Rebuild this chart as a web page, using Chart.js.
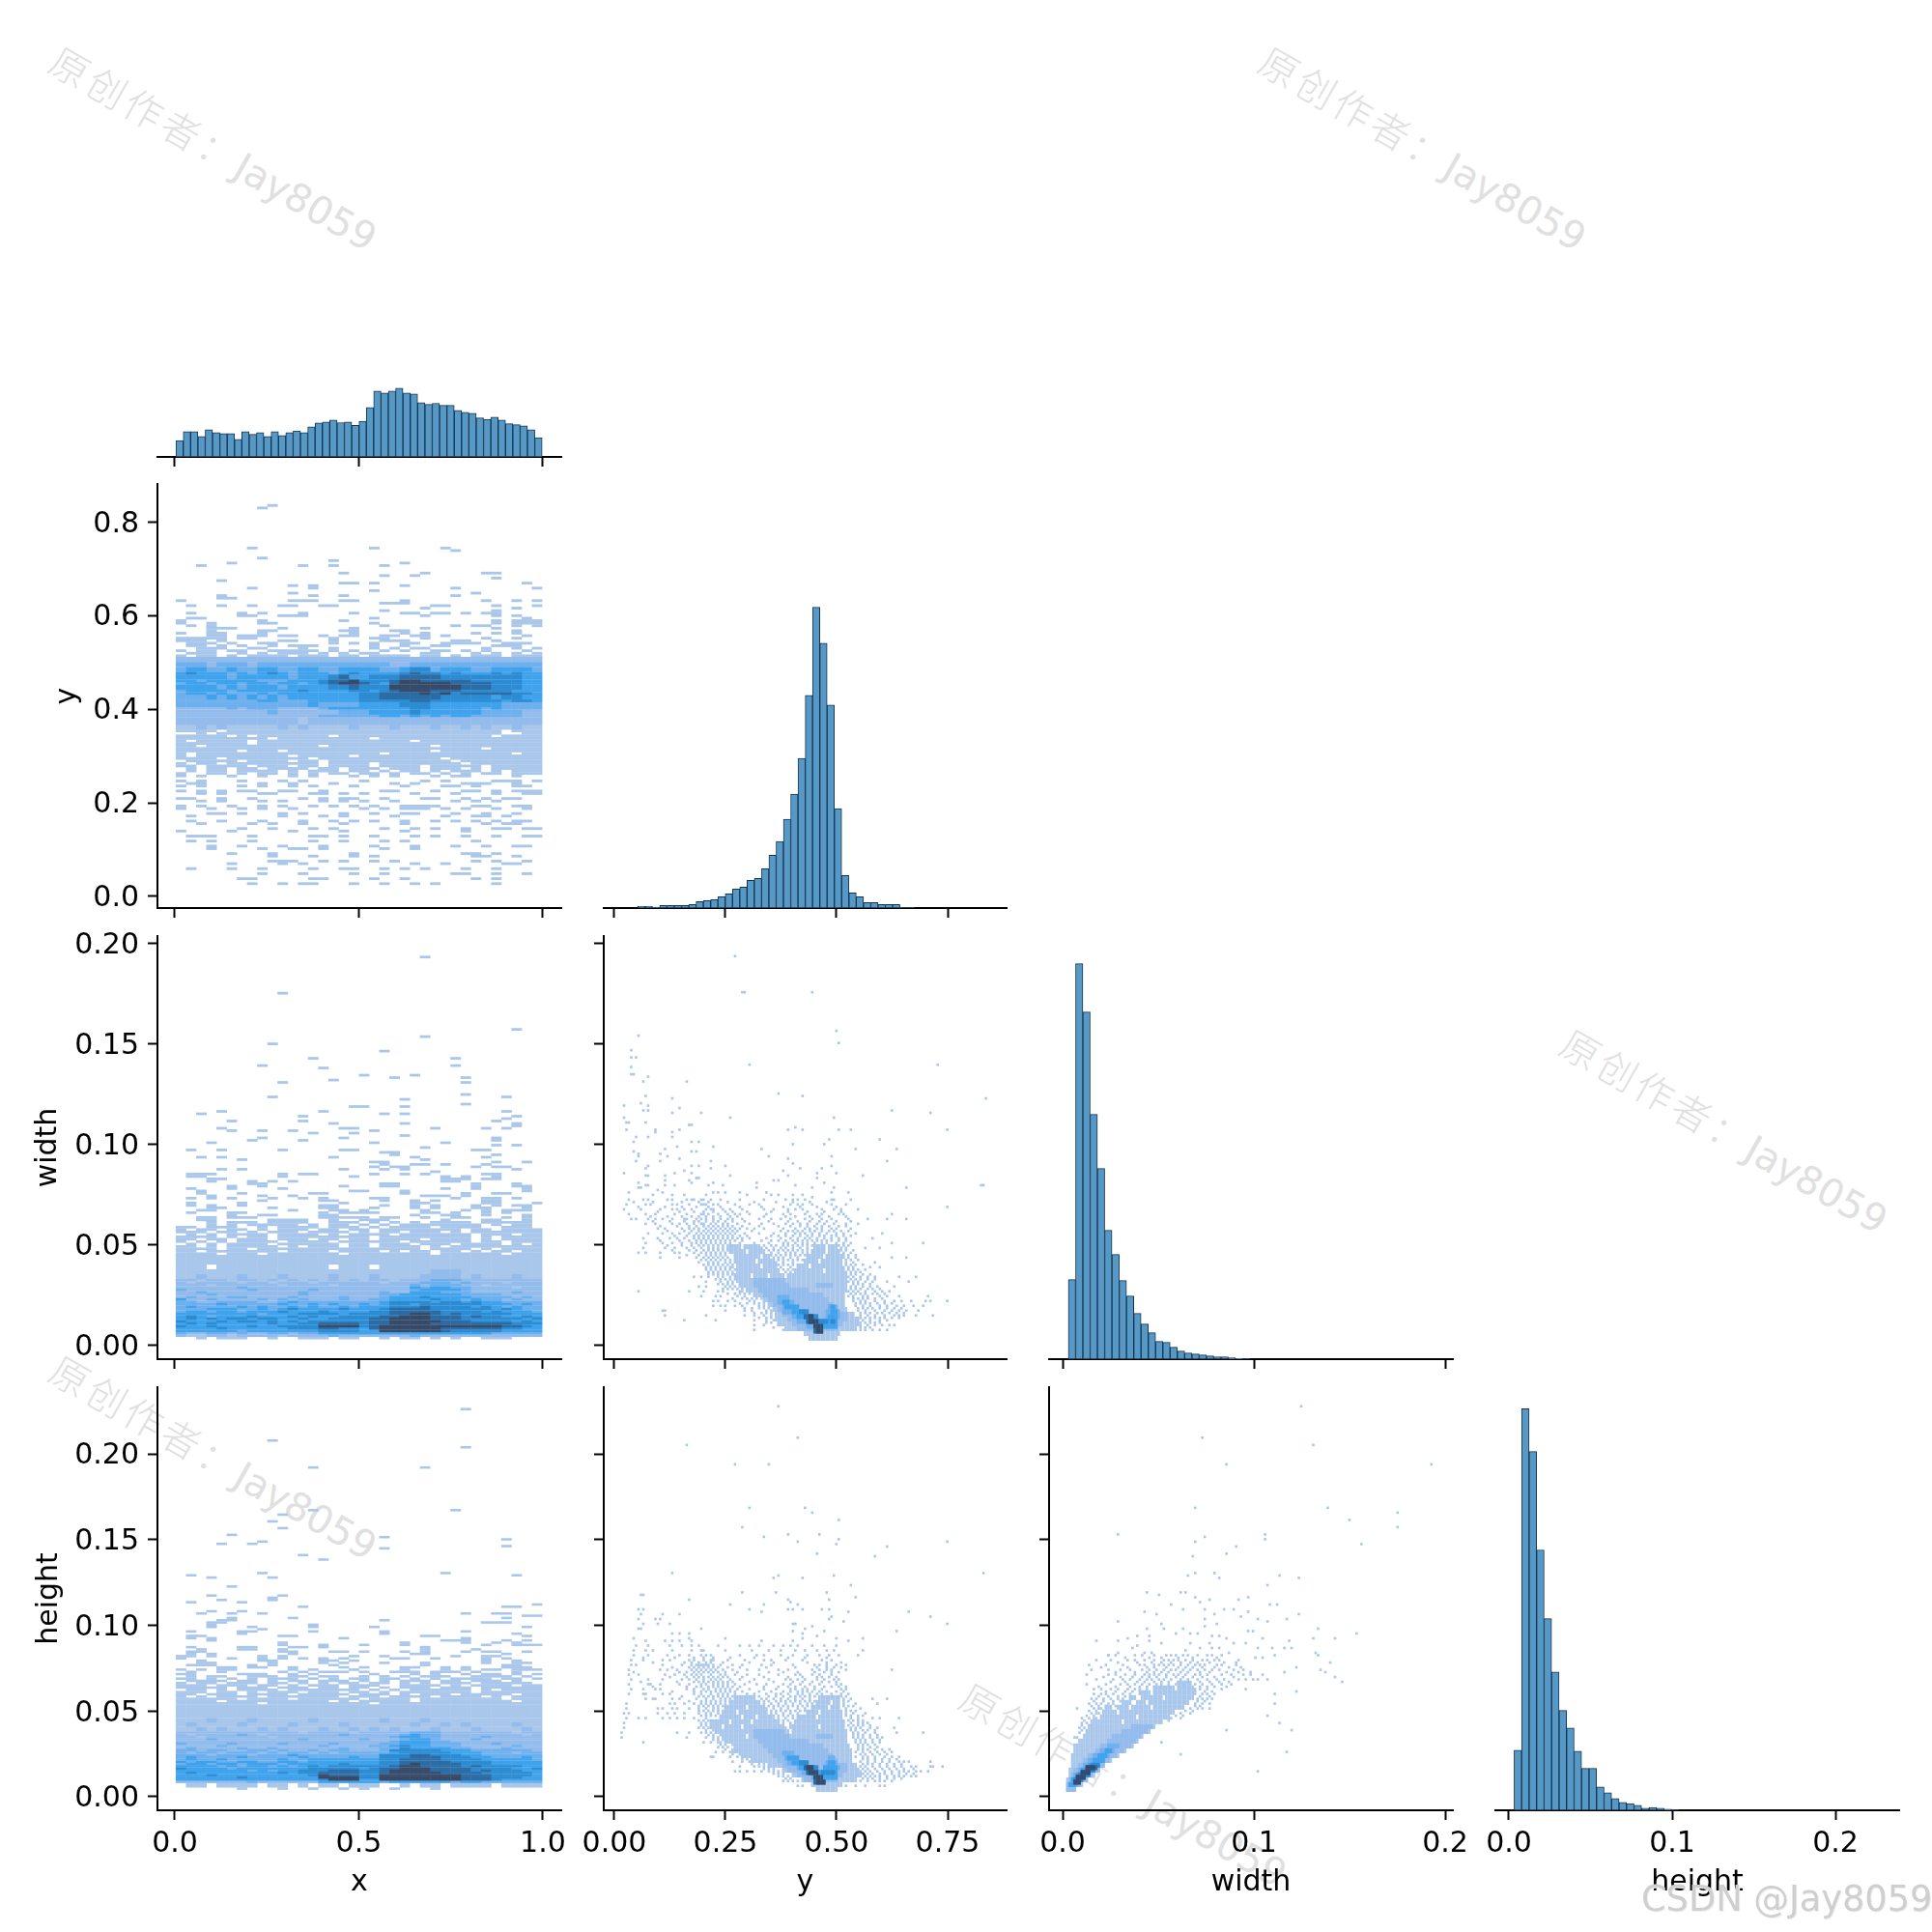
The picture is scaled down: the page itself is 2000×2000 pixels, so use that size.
<!DOCTYPE html>
<html><head><meta charset="utf-8">
<script src="https://cdn.jsdelivr.net/npm/chart.js@4"></script>
<style>
html,body{margin:0;padding:0;background:#fff;width:2000px;height:2000px;overflow:hidden}
canvas{position:absolute;z-index:2}
.wm{position:absolute;transform-origin:0 50%;transform:rotate(29.6deg);color:#e0e0e0;font:40px "DejaVu Sans";white-space:nowrap;z-index:1}
.wm span{font-family:"Noto Sans CJK SC";letter-spacing:4px;font-weight:300}
.csdn{position:absolute;left:1699px;top:1944px;font:36.7px "DejaVu Sans";color:#cfcfcf;white-space:nowrap;z-index:6;text-shadow:1px 1px 0 #eee}
</style></head><body>
<script>
// ---------- names and ticks ----------
const names=["x","y","width","height"];
const xTicks=[[0,0.5,1],[0,0.25,0.5,0.75],[0,0.1,0.2],[0,0.1,0.2]];
const yTicks=[null,[0,0.2,0.4,0.6,0.8],[0,0.05,0.1,0.15,0.2],[0,0.05,0.1,0.15,0.2]];
const xDecimals=[1,2,1,1];
const yDecimals=[0,1,2,2];
const axisRangeX=[[-0.0472,1.05],[-0.0239,0.8826],[-0.00707,0.204],[-0.00828,0.239]];
const axisRangeY=[null,[-0.0248,0.881],[-0.00673,0.2038],[-0.0079,0.2389]];
// ---------- diagonal histograms: bin start, bin width, bar heights ----------
const histX=[46,71,71,57,76,68,65,65,49,71,63,68,57,71,60,68,73,68,84,95,98,103,96,98,88,100,138,184,179,184,192,179,176,152,147,150,144,144,130,125,122,109,105,111,103,93,90,87,76,54];
const histY=[0,0,5,5,3,8,8,8,8,11,20,23,26,35,44,59,65,86,92,122,164,206,275,353,464,659,932,821,629,308,101,47,35,17,17,11,11,11,1,1,0,0,0,0,0,0,0,0,0,0];
const histWidth=[247,1228,1078,760,592,400,325,244,196,142,109,82,55,52,37,25,19,16,13,10,7,7,4,2,1,0,0,0,0,0,0,0,0,0,0,0,0,0,0,0,0,0,0,0,0,0,0,0,0,0];
const histHeight=[168,1123,1003,728,536,387,279,230,165,117,117,65,49,33,22,19,14,6,8,6,3,1,0,0,0,0,0,0,0,0,0,0,0,0,0,0,0,0,0,0,0,0,0,0,0,0,0,0,0,0];
const histBinStart=[0.003,0.0201,0.003,0.0032];
const histBinWidth=[0.0199,0.01638,0.0038,0.00459];
const histTop=[1183,1314,1314,1183];
// ---------- x-bin panels: sparse rows "row:bins" and full rows [from,to,levels] ----------
const xBinStart=0.003, xBinStep=0.02764;
const xyTop=0.8375, xyStep=0.00535;
const xyStripes=["0:9","1:8","17:7,19,26","18:27","21:8","22:15","23:5,22","24:2,12,15,20","27:16,24,30,31","28:20,23","29:31","30:4","31:16,17,19,34","32:11,13,22","33:7,13,27,35","34:19","35:11,29","36:4,13,16,27","37:4,5","38:0,11,12,13,16,17,22,30,33,35","39:20,21,22","40:1,4,7,10,11,14,15,25,26,31,35","41:24,33","42:20,31","43:1,6,8,12,17,22,23,25,26,28,30,31","44:6,7,10,11,12,24,31,33","45:1,2,19,34","46:0,8,16,31,33,34,35","47:0,3,8,9,19,31,33,34,35","48:1,3,20,27,29,30,33,35","49:3,4,5,10,17,24,31","50:3,8,9,16,17,21,22,33","51:0,3,4,8,17,22,24,29,31,33","52:3,4,6,7,8,10,11,14,16,17,20,21,23,24,26,34","53:0,1,2,3,4,6,7,15,19,20,24,30,33","54:0,1,2,4,10,11,15,20,21,22,27,28,31","55:1,2,3,5,8,9,15,17,19,22,23,26,27,28,29,32,33,34","56:1,2,4,6,9,11,12,13,19,22,25,26,31,32,33","57:2,3,4,7,8,12,15,19,21,23,24,30,33,35","58:0,2,3,5,6,9,10,11,12,13,15,17,20,22,25,26,28,30,34","59:1,2,3,6,8,10,11,12,14,16,18,19,24,25,29,31,33,35",
"108:0,2,5,8,11,13,17,19,21,25,27,28,33","110:0,2,6,10,12,18,24,26,31,32,33,35","111:1,2,8,11,15,21,23,28,29,30,33","112:0,2,6,8,11,13,17,22,26,27,29,33,34","114:0,2,4,6,7,10,11,14,20,21,25,28,29,31,33,34,35","115:2,4,8,9,13,14,16,18,23,27,31,34,35","117:0,1,4,7,12,14,16,17,20,24,25,28,30,32,33","118:2,4,8,10,14,16,18,21,27,29,31","120:0,2,5,8,10,13,15,17,19,22,23,24,25,29,30,34,33","121:0,3,6,8,11,18,20,22,23,24,26,28,31,34","123:3,4,6,10,12,16,19,22,23,27,30,33","124:1,10,14,16,21,26,29,30,32","126:1,4,8,12,15,17,19,22,25,27,29,31,33,34","127:2,7,9,12,16,22,30,32,33","129:6,9,13,15,20,23,25,28,31,35,32,34","130:0,5,11,16,22,28","132:1,2,3,7,13,14,16,19,23,25,28,31,34,35","134:1,3,7,13,16,20,22,29","136:3,6,10,14,19,23,27,30,33,34","137:3,8,11,12,14,20,23","139:5,9,17,28,29,31","140:9,13,17,19,29,30,33","142:9,10,11,14,16,19,21,29,31,34","143:5,10,12,23,26,32,33","145:1,5,8,13,16,17,20,22,24,28,31","147:8,12,17,20,27,28,31,34","149:6,7,13,14,19,22,29,31","151:7,10,12,13,17,20,23,25,31"];
const xyBands=[[60,60,"1.11.1.1111.111.11.1111.11.1.111.111"],[61,62,"222222222222222222222222222222222222"],[63,64,"333233323333333333333223333333333333"],[65,66,"344334334433443344443345534443344443"],[67,67,"454443434543444345444456554544454544"],[68,69,"444443444443444564455566665555555544"],[70,70,"443444443334445667555677666665555544"],[71,71,"344344344344345677654677777666655544"],[72,73,"444434344434444556555777777766655544"],[74,74,"344443444444544445545677766655555444"],[75,75,"344343334344444444556666767566666554"],[76,77,"333434343434444444556666665555545544"],[78,78,"333333334433344444555556655555554554"],[79,80,"333333333333343333444455544444443333"],[81,81,"222223233322223444444445544444343333"],[82,83,"222222222322222233344445444444333322"],[84,84,"222222222222223333334434343443333322"],[85,87,"222222222222122222222222222222222222"],[88,89,"112121111121211112111211121121211211"],[90,90,"1111.111111111111111111111111111.111"],[91,91,"..1.1111111111111111111111111111..11"],[92,92,"11111.1.1111111.111111111111111.1111"],[93,93,"111111111.111111111.1111111111111111"],[94,94,"1.11111.111111111111111.111111111111"],[95,95,"1111111.1111111111111111111111111111"],[96,96,"11.11111111111.1111111111.1111111111"],[97,97,"111111111111111111111111111111.11111"],[98,98,"111111.111.11111111111111.1111111111"],[99,99,"1.111111111111111111.111111111111.11"],[100,100,"1.111111111.11111.111111111111111111"],[101,101,"1111.11111111.111111111111.111111111"],[102,102,".11111.1111.11.111111111111.11111111"],[103,103,"1.11.111111111.1111.11111111.1111111"],[104,104,"11.1111.111.11.1111.1111.11111.11111"],[105,105,".1.11.11.1111.11.111.111.111.1.11111"],[106,106,".1.11.1111.1.111.11.1.11.1.111.1.111"],[107,107,"1..11.1.11.1.1.11.11.1.11.1.1.11.111"]];
const xwTop=0.1939, xwStep=0.0012;
const xwStripes=["0:24","15:10","30:33","33:24","36:9","39:20","42:13,27","45:8,27","46:14","49:18,23","50:21,28","51:15","52:10,28","57:28","58:9,32","59:22","61:28","62:17,18,22","64:4,14,32","65:2,20,22","66:12,33","67:32","68:5,12,31","69:15,22,33","70:33","71:4,16,17,25,30,32","72:5,8,11,19","73:13,17","74:22","75:8,16,31","76:7,12,31","77:3,19,26","78:31,33","79:24","80:1,4,10,16,17,29,30","81:20,21","82:21,31","83:2,4,15,23,30","84:6,24","85:19,20,31,34","86:20,23,24,26,30","87:19,21,22,29,31,32","88:4,6,16,20,22,33","89:25","90:1,2,3,10,12,13,19,22,24,30,31","91:1,2,10,17,26,28,31","92:3,4,26,27,28,30,31","93:3,7,9,11,26,27","94:7,8,20,21,29,33","95:5,8,16,20,21,29,33,34","96:1,5,10,26,29,34","97:2,17,18,22,34","98:2,6,13,14,22,28,31,32","99:3,8,11,24,25,26,28","100:1,3,5,9,12,14,19,20,27,30,31,33","101:8,14,15,20,23,25,30,31","102:1,6,16,23,24,30,31,35","103:1,3,6,14,15,20,23,25,29,31,33,34","104:3,4,9,14,15,19,23,25,29,30,34","105:2,3,11,15,16,18,24,28,30,32,33,34","106:1,5,6,14,16,17,18,19,24,25,27,30,32","107:5,8,9,14,15,23,26,27,30,34","108:2,3,5,6,7,14,15,16,17,18,20,21,24,27,28,32,34","109:2,3,9,10,11,12,15,18,19,20,26,30,31,34"];
const xwBands=[[110,110,"...1.111.1111..111.1.1.1.1111.11111."],[111,111,"...1.1.11111.1.11.1.1.11111111.1.11."],[112,112,"11.111..1.1111.111.1.1111.1111..111."],[113,113,"1.11.11.1.111.11.11.11111111.11.1111"],[114,114,"111.11.1.111.1111.1.11.111.1.1111111"],[115,115,".1.1.1111.1111.1.1111.1111111.111.11"],[116,116,"1111.1.11.111111111.111111111.1.1111"],[117,117,"11.11.111.111.11.11.1111.1111.1.1111"],[118,118,"1.1.1.1111.1111.111111.111111.11.111"],[119,119,".1.1.1111.111111.11.111.111.1111.1.1"],[120,120,"11.1.11111.1.111.11.1111.1.111111111"],[121,121,"1111.11.1111111111111111.1111.1.1111"],[122,122,"11.1111111.1111.1111.1.11.11.1.11.11"],[123,123,"1111.111.1111111.11111111.111111.111"],[124,127,"111111111111111111111111111111111111"],[128,129,"111.11111111111.111.1111111111111111"],[130,131,"111111111111111111111111122211111111"],[132,133,"112111211121111211121111222212111211"],[134,134,"221221221212121212122122233322222222"],[135,135,"212222122122212222221222333232221222"],[136,136,"222122222212222122222223233322122222"],[137,137,"222222322222222222222224344332222122"],[138,138,"322222232222232222222223444432222222"],[139,139,"223222222222322222223224443332222322"],[140,140,"222322222222322222223344444433332222"],[141,141,"232223322223222232223444544443333232"],[142,142,"422322223232322232233444454434332322"],[143,143,"332233332234333333334555545545443333"],[144,144,"333343333343343433434554555555444343"],[145,145,"343333434334343343444555655554543433"],[146,146,"333444334345444454445666655555545433"],[147,147,"344344344454445444455666665555454443"],[148,148,"444444443444555545555667765655555444"],[149,149,"454344454445454455556677766656554454"],[150,150,"454545545544544555566777766655555545"],[151,151,"544454554545455555566777776665555454"],[152,152,"454544444544556666566777766666666555"],[153,153,"544544454455557777567777777777776654"],[154,154,"444454444445556655467777776666665544"],[155,155,"444444344444445555447777776555554444"],[156,156,"322332322332334444444444444444433333"],[157,157,"211221222212222322222223222222222222"],[158,158,"..1.111..1..111.11..1.11.1.1..111..."]];
const xhTop=0.2267, xhStep=0.00131;
const xhStripes=["0:28","14:9","17:28","26:13,24","45:13,27","47:10","50:9","53:10","56:5","57:20","58:32","59:8","60:4,7","61:32","62:20","65:12","67:14","73:8,26","74:1,33","75:3,9","79:5","83:3,10","84:9","85:4,9","86:1,6","87:35","88:12,32,33","90:3,6","91:2,5,8,28,31,32","92:34,35","93:5,11,32","94:4,5,20","95:3,4,30,31,32","96:3,13","97:3,7,13,19,34","98:8","99:1,6,7,13,20,28","100:6,20,33","101:1,2,10,11,24,25,34","102:1,3,16,28","103:3,26,27,28,32,34","104:10,22,28,31,33","105:10,14,18,22,30,33,34,35","106:1,6,7,11,12,14,24","107:2,6,7,10,24,29","108:1,2,10,11,15,16,18,22,24,28,30,31,34","109:1,3,11,23,24,32","110:0,1,3,8,10,17,20,27,30,31","111:0,5,8,10,12,14,16,21,22,25,30,32","112:2,8,9,14,15,17,30,33","113:2,3,9,14,16,20,24,30,33,34","114:1,2,3,7,9,15,24,32,33","115:4,5,7,8,11,16,18,22,23,26,28,32,33,34","116:0,2,4,5,11,13,17,22,26,28,30,31,33,34,35","117:1,4,10,12,14,15,16,18,21,22,23,25,26,27,29,33","118:0,1,6,7,8,11,13,19,23,25,28,30,31,33,35"];
const xhBands=[[119,119,".1.11..111.11.11..1.1.1.111..1111.1."],[120,120,"11.1.1.1.111.1.1.11.11.1.1.1111.11.1"],[121,121,".1111.11.1.11.111.1.1.111.11.111.1.."],[122,122,"1.11.111.11.1.1.11.11.1.1.111.11111."],[123,123,"111.111.11.1.111.111..1111.1.1111.11"],[124,124,"11111.111.111.11.11.1.111.111.111111"],[125,125,".11.1.1111.1111111.1.1.111111.1.1111"],[126,126,"111.11.1.111.111.11.1.1111111.111111"],[127,127,"11.111.1111.11111.111.1.111.11111.11"],[128,128,"1.1.1111.1111111.111.1111.1111.1.111"],[129,129,"111111.1111.111111.1111.11111111.111"],[130,130,"1111.1111111111.1.11111.111111111.11"],[131,131,"11111111.1111111111.1111111111111111"],[132,137,"111111111111111111111111111111111111"],[138,139,"111211121111121111112111211111111111"],[140,141,"121111211112111121111112112121111211"],[142,143,"112121112121112112121211121112111121"],[144,144,"222222222222122221222223332222222122"],[145,145,"212222321222222232222234332222222212"],[146,146,"221222222122222222222344332222322222"],[147,147,"222322222222322222322234432223222222"],[148,148,"222222222222222222222344433222222222"],[149,149,"322223222232222322223344433322232222"],[150,150,"222232222222223222233454433322222322"],[151,151,"232222322322222232223354444332223222"],[152,152,"332332233232232332223555554443333332"],[153,153,"323323332323323233333455555444333233"],[154,154,"333233323334333333335556655544333333"],[155,155,"343333433333433334335556665554433343"],[156,156,"343343333343344444445566665555444443"],[157,157,"434433443344344444445566666555544444"],[158,158,"344344344434444454445567666655544444"],[159,159,"444434344343454555555677666656555544"],[160,160,"544443444444455555456677766665555445"],[161,161,"444444434344555666556777766665655544"],[162,162,"454444444454556666556777776666555554"],[163,163,"444544444444457666557777777766655554"],[164,164,"444444544444447777557777777766655544"],[165,165,"444444444444445777447777777766654444"],[166,166,"222222232222224444443444444344333333"],[167,168,".11.1111.11.1.11.111..1.11.1111.1111"],[169,169,"......1...1..1..1.1..1...1......."]];
// ---------- fine-bin panels: single cells "col,row", sparse rows, and level runs ----------
const ywCell=[0.00543,0.0012], yhCell=[0.00543,0.00141], whCell=[0.00126,0.00141];
const ywSingles="50,161 53,146 54,146 82,146 92,130 93,125 10,128 7,122 7,119 9,119 7,115 7,112 8,112 56,116 134,116 14,111 12,109 30,109 68,104 78,103 154,102 13,103 24,102 4,99 11,100 14,99 14,97 12,97 27,98 24,96 36,96 115,97 131,96 48,94 91,94 4,94 5,92 6,92 13,92 31,91 32,91 5,89 17,89 27,89 75,90 78,89 93,89 98,89 138,89 72,89 24,88 17,88 24,86 9,86 14,86 32,84 35,84 8,84 89,85 110,85 87,83 74,83 41,82 26,82 21,81 61,81 100,81 117,81 8,80 10,79 10,78 19,79 32,80 34,80 22,78 64,78 90,78 27,77 9,76 72,77 74,75 113,76 19,76 32,74 35,74 40,76 40,73 46,74 14,74 13,73 77,73 86,73 90,74 70,72 13,70 14,70 4,71 21,70 25,71 29,72 32,71 34,69 48,70 66,68 68,68 72,70 84,71 84,69 92,71 103,70 14,66 10,67 10,65 11,65 13,66 21,68 21,66 25,66 31,68 35,69 32,67 39,66 41,67 45,66 59,67 59,65 75,66 82,65 87,67 91,65 121,65 153,66 152,66 6,63 16,62 18,64 20,63 24,62 29,62 32,60 38,62 41,63 43,63 46,63 52,63 55,62 63,63 65,62 68,62 74,62 78,62 82,61 90,63 97,63 138,18 138,57";
const ywSpeckle=["60:6,12,14,22,24,30,33,36,37,40,44,52,62,71,74,76,79,90,91,98","59:8,16,28,35,39,47,58,67,74,81,88","58:5,13,15,24,26,31,36,37,38,41,43,50,56,60,73,76,78,82,90,96","57:10,21,28,34,39,44,52,61,70,77,84,92","56:4,11,19,24,26,29,32,38,40,41,45,48,53,62,66,72,75,78,86,91,94,101","55:18,27,33,37,41,46,49,55,65,72,80,87,94","54:6,13,17,25,30,36,37,39,43,47,50,52,56,63,70,73,79,84,86,93,95,115","53:15,22,28,32,35,38,41,44,48,51,62,71,75,81,85,89,96","52:7,9,14,17,20,24,29,30,34,36,38,41,44,47,49,53,60,65,69,73,79,82,86,90,97,105,113,121","51:16,23,29,33,35,38,41,43,46,49,54,64,72,76,81,85,88,92,98","50:13,17,24,27,30,33,36,37,40,42,45,47,51,56,61,66,71,74,77,80,84,87,91,96,101","49:19,26,31,34,37,39,41,43,45,47,49,53,60,68,73,77,80,83,86,89,93,96","48:18,21,28,31,33,35,38,40,42,44,46,48,50,52,55,58,62,70,75,79,81,84,86,90,92,98","47:22,29,32,35,37,39,41,43,45,47,49,51,57,69,72,74,76,78,81,83,86,89,91,94,97","46:14,20,24,27,31,34,36,38,40,42,44,46,48,50,54,60,66,71,75,77,79,82,85,88,92,95,100,111","45:25,30,33,35,37,39,41,43,45,47,49,52,55,65,68,71,74,77,80,82,85,87,90,92,95,98","44:12,18,23,26,29,33,35,37,39,41,43,45,47,49,51,53,56,63,69,73,76,79,81,84,87,90,93,96,107","43:19,27,31,34,36,38,40,42,44,46,48,50,53,61,65,68,71,74,76,78,80,82,84,86,88,90,93,96","42:13,20,24,28,32,34,36,38,40,42,44,46,48,52,58,64,70,72,75,78,80,83,86,88,92,95,98,115,128","41:22,28,32,35,37,39,41,43,45,47,49,62,65,67,70,72,74,76,78,80,82,93,95,97","40:12,21,25,30,33,36,39,41,43,45,47,61,63,66,69,71,74,77,80,94,96,104,110","39:24,31,34,37,39,41,43,45,47,62,64,66,68,70,72,74,76,78,80,94,96,99","38:10,13,19,25,27,33,36,38,40,42,44,46,62,65,68,71,73,75,78,80,95,98","37:30,35,38,40,42,44,46,65,67,69,71,73,75,77,79,95,97,100","36:19,27,34,37,39,41,43,45,47,66,68,70,73,76,95,97,100,115,121","35:36,38,40,42,44,46,48,66,68,70,72,74,76,78,96,98,101","34:35,39,41,43,46,48,67,70,74,96,99,108","33:37,39,41,43,45,47,49,68,70,72,74,96,98,100,103","32:38,40,42,44,46,48,49,69,73,95,97,99,106,110","31:38,40,42,44,46,48,50,70,72,74,97,99,101,104","30:39,41,43,45,47,49,71,73,96,98,100,102","29:39,41,43,45,47,49,96,98,100,103,106","28:33,36,39,43,45,48,97,99,102,105,108,118,125","27:42,44,46,48,50,98,100,102,105,108","26:38,44,47,49,97,99,101,104,107,113,122","25:43,45,47,49,99,101,103,106","24:35,38,46,48,50,98,100,103,106,109,116","23:45,47,49,51,53,98,100,102,105,107,110","22:10,31,37,43,45,52,53,97,99,101,104,108,111,114","21:47,50,52,54,56,98,100,102,104,107,109,112","20:36,42,44,51,54,97,99,103,105,110,113,118,130","19:49,53,55,57,59,61,99,101,103,105,108,111","18:41,43,47,50,56,58,99,102,104,108,112,116,119,123,129,131","17:52,55,58,60,62,100,102,104,106,109,112,115","16:41,44,46,50,53,60,62,100,103,106,110,113,117,120,124,128","15:54,57,60,62,64,101,103,105,107,110,113,116,119","14:20,21,46,54,57,63,65,101,104,108,112,115,118,121,126","13:58,61,63,65,102,104,106,109,111,114,117,120","12:21,38,54,58,62,65,102,105,108,112,116,118,120,125,132","11:60,63,65,102,104,106,108,110,112,115,118","10:29,42,58,63,66,103,106,110,113","9:63,65,102,104,106,108,110","8:58,62,68,70,102,105,108,111,114,116","7:66,102,104,106","6:58,70,72,74,76,102,104,107,110,113"];
const ywRuns=[["40:48-52,54-60,83-87,89-92","38:48-54,56-61,82-87,89-93","36:50-60,62-64,80-86,88-94","34:50-58,60-66,79-84,86-94","32:51-60,62-67,76-80,82-94","30:51-68,75-86,88-95","28:50-56,58-63,65-70,72-96","26:51-68,70-96","24:52-62,64-96","22:55-96","20:58-95","18:62-95","16:64-95","14:66-96","12:67-99","10:67-101","8:68-101","6:71-100","4:79-93","2:81-92"],["6:76-92","8:74-94","10:72-96","12:70-96","14:68-92","16:66-90","18:64-88","20:62-86","22:60-80","24:58-72,84-90","26:58-70"],["7:80-92","9:76-92","11:74-78,88-93","13:70-78,88-93","15:70-76,89-92","17:68-74","19:68-72"],["7:84-92","9:80-92","11:76-83,89-92","13:74-79,90-92","15:71-76,90-91","17:70-72"],["9:85-88,90-91","11:79-84","13:77-80"],["5:83-86","9:80-82","11:79-81"],["5:84-86","7:83-86","9:81-84","11:81-82"]];
const yhSingles="68,161 76,148 30,145 50,137 64,137 56,119 79,119 82,117 93,114 53,111 62,107 72,108 85,108 76,105 93,106 92,104 138,105 113,103 108,99 84,100 24,92 153,92 91,91 68,91 66,90 78,90 98,87 12,83 11,83 53,84 67,84 88,84 100,82 72,81 73,80 89,81 31,81 48,79 62,79 76,79 78,77 56,77 61,76 72,77 74,77 86,77 89,77 97,76 122,76 10,77 12,77 11,75 20,75 27,75 17,73 19,73 18,71 10,73 12,71 10,69 11,69 23,71 131,74 89,73 90,74 95,72 138,71 74,71 75,71 82,70 79,69 74,68 36,69 24,67 27,67 31,67 117,68 87,68 78,67 84,66 8,65 13,64 21,64 24,64 27,64 31,65 32,64 46,65 92,65 103,65 97,64 61,64 74,64 78,65";
const yhSpeckle=["62:9,14,23,28,32,35,43,52,56,60,66,70,73,76,82,87,92","60:8,13,16,24,32,36,37,46,57,64,69,75,79,84,88,91,103","58:8,14,22,27,31,36,38,40,52,59,62,69,74,80,85,89,93,101","57:12,25,33,37,41,48,58,72,79,88","56:7,12,20,23,31,33,37,40,41,47,54,62,65,71,78,86,90","55:16,29,32,35,38,40,45,56,66,80,88,94","54:7,9,20,28,32,34,35,36,37,38,39,41,44,49,53,61,65,74,83,85,88,92,96","53:24,31,33,35,37,39,41,43,47,52,63,75,84,88,91,94","52:6,19,22,26,32,34,36,38,40,42,45,49,55,60,68,72,82,85,88,90,96,115","51:8,27,30,33,35,37,39,41,43,46,51,64,70,76,83,87,90,93","50:6,10,21,25,29,32,34,36,40,44,46,50,55,60,68,75,77,82,85,90","49:23,30,33,35,37,39,41,43,45,47,53,62,72,78,84,86,89,92","48:7,14,20,28,31,34,37,40,42,44,48,52,58,64,71,73,76,79,84,87,91,93","47:11,26,33,35,37,39,41,43,45,47,49,56,66,74,78,82,86,89,92","46:6,14,15,19,27,31,36,38,41,43,45,47,50,54,59,63,70,73,77,81,85,92,94","45:16,30,34,36,39,41,43,45,47,49,52,62,68,72,75,79,83,87,90,93,96","44:7,12,17,19,30,33,37,39,42,44,46,48,51,56,62,67,73,75,78,80,83,86,94,96","43:24,33,36,38,40,42,44,46,48,50,53,60,65,70,73,76,78,80,82,85,88,92,95","42:6,12,13,20,23,33,36,40,43,45,47,50,55,58,63,67,69,72,76,78,81,84,86,90,94,97","41:28,35,37,39,41,43,45,47,49,60,64,67,70,73,75,77,79,81,83,94,96","40:13,16,17,24,27,34,38,41,44,46,48,61,63,66,69,72,75,78,81,95,98,107,113","39:31,36,38,40,42,44,46,48,62,64,67,69,71,73,75,77,79,81,83,95,97","38:5,23,25,29,33,36,38,40,42,44,46,62,65,68,71,74,77,80,82,95,100,109","37:35,37,39,41,43,45,64,66,68,70,72,74,76,78,80,95,97,99","36:5,18,20,24,26,31,35,38,41,43,63,66,69,72,76,79,96,102","35:35,37,39,41,43,65,67,69,71,73,75,77,79,96,98,100","34:4,6,18,22,25,29,35,38,40,43,65,67,70,73,76,96,99,104","33:36,38,40,42,66,68,70,72,74,96,98,101,103","32:5,10,13,20,23,26,29,33,38,66,68,71,74,77,98,101,107,110,118","31:35,37,39,68,70,72,97,99,101,103","30:4,36,38,40,70,73,98,101,103,105","29:36,38,97,99,101,103,106","28:4,35,37,39,71,98,100,102,106,109,116","27:38,41,98,100,103,105,108","26:3,26,31,36,38,40,70,99,101,104,108,117,128","25:39,41,44,99,101,103,106,109","24:3,30,38,41,43,99,101,103,106,109,111","23:41,43,45,100,102,104,107,110","22:12,37,40,43,44,100,102,104,107,110","21:44,46,49,101,103,105,108","20:43,45,47,50,101,103,106,109","19:46,49,51,101,103,105,108,111,114","18:42,45,48,49,50,100,103,106,109,112,115","17:49,52,54,102,104,107,110,113","16:40,41,48,51,53,100,103,105,108,112,115,118","15:53,55,57,103,105,108,111,114,117","14:49,53,56,58,60,102,105,108,111,114,118,120,122,131","13:57,60,62,103,105,107,110,113,116,119","12:52,58,60,62,64,102,104,107,110,113,116,119,123,125,131,132,136","11:62,64,66,103,105,108,111,114,117,120,124","10:50,52,55,58,61,64,66,68,102,104,106,109,112,115,118,120,122,125,127,130","9:66,68,70,103,105,107,110,112,115,118,121,124","8:68,70,72,102,104,106,108,110,113,116,118,120,123,125","7:71,73,103,105,107,110,113,116,119","6:70,72,74,76,102,105,108,110,112,115","4:76,78,96,100,104,110,112"];
const yhRuns=[["40:50-58,85-93","38:48-60,84-89,91-93","36:46-54,56-62,82-88,90-93","34:45-50,52-63,80-84,86-94","32:44-52,54-58,60-65,76-83,85-94","30:40-47,49-56,58-68,75-95","28:40-44,46-52,54-70,73-84,86-95","26:42-72,74-96","24:45-54,56-96","22:46-96","20:50-97","18:50-98","16:53-98","14:57-98","12:64-100","10:70-101","8:74-102","6:78-100","4:82-94","2:84-92"],["6:79-92","8:76-94","10:72-96","12:70-96","14:68-92","16:66-90","18:64-88","20:62-86","22:60-80","24:58-72,84-90","26:58-70"],["7:82-92","9:78-92","11:76-80,87-93","13:72-78,88-92","15:71-76,89-91","17:70-74"],["7:86-92","9:80-92","11:77-83,87-92","13:74-79,89-91","15:72-76"],["9:86-91","11:79-84","13:77-80"],["5:83-87","9:80-82","11:79-81"],["5:84-87","7:83-86","9:81-84","11:80-82"]];
const whSingles="99,161 104,145 58,148 68,137 153,137 55,119 110,119 119,114 139,117 139,111 23,108 59,107 84,108 84,106 55,105 72,103 124,104 68,100 54,99 52,91 55,92 63,92 65,90 90,91 98,90 85,87 35,84 40,83 49,84 51,84 55,82 57,80 61,81 73,81 77,82 86,79 89,79 45,79 34,76 39,75 50,77 59,77 63,75 67,77 71,77 77,76 74,74 98,75 81,73 93,73 85,72 59,73 23,72 41,71 64,71 59,70 106,69 42,69 50,69 35,69 77,68 79,68 122,67 31,66 36,66 47,67 53,67 56,67 62,66 65,66 113,65 104,65 94,64 14,64 23,64 27,65 36,64 41,63 53,63 61,63 68,65 83,65 87,61 92,61 95,61 76,63 81,61 71,63 105,59 106,58 80,57 83,57 88,58 19,58 23,59 29,61 31,62 34,59 37,59 51,60 57,61 62,61 65,61 69,59 97,53 111,55 109,51 107,52 92,51 113,49 116,47 85,48 81,48 83,50 78,51 76,44 97,43 88,42 88,38 85,33 90,30 68,27 95,27 93,18 81,10 49,17 41,22";
const whSpeckle=["58:19,22,30,33,38,43,45,47,50,52,56,60,62,66","57:26,36,41,48,54,64","56:14,20,27,30,34,38,42,44,46,48,51,54,58,60,63,65,73","55:23,31,37,41,45,49,53,56,61,67,72","54:11,18,25,32,34,38,40,42,44,46,49,52,55,57,59,64,66,72","53:16,27,35,38,43,48,51,54,58,63,69,74","52:12,19,24,28,33,36,39,42,45,47,50,53,56,59,62,65,71,75","51:22,30,35,38,41,44,49,52,57,61,68,73","50:10,19,22,26,30,34,36,38,40,43,46,48,51,55,57,60,66,70,75,78","49:17,24,29,33,36,39,43,47,50,54,58,63,71","48:14,21,25,28,32,35,37,40,42,45,49,52,56,60,64,67,73,76,79","47:20,26,31,34,38,41,44,48,51,57,61,65,69","46:10,18,24,27,30,33,36,39,41,44,47,50,55,58,62,66,70","45:15,22,28,32,35,38,41,44,57,60,63,68","44:13,16,20,23,27,30,32,35,55,57,60,66","43:18,22,26,29,33,55,59,62","42:13,16,18,21,25,28,55,58,60,63","41:15,19,23,26,57,61","40:12,14,17,20,23,25,56,58,60,62","39:13,17,21,24,56,59","38:11,14,16,19,21,55,58,61","37:12,15,18,22,55,57","36:6,13,15,16,53,56,58,61","35:11,14,17,51,54","34:12,14,15,49,53","33:10,13,47,50","32:8,11,13,14,45,49","31:9,12,44","30:8,10,12","29:8,11","28:7,9","27:8","26:7","24:5,6"];
const whRuns=[["2:2-5","4:2-8","6:2-10","8:3-13","10:3-15","12:4-17","14:4-20","16:4-23","18:5-26","20:5-29","22:7-31","24:9-33","26:10-36","28:11-38","30:13-24,26-41","32:16-30,32-44","34:17-22,24-46","36:18-20,23-27,29-36,38-50","38:25-28,31-34,36-52","40:28-30,33-41,43-54","42:32-36,38-54","44:38-46,48-54","46:48-53"],["2:2-5","4:2-7","6:3-10","8:4-12","10:5-15","12:7-17","14:9-19","16:11-22","18:14-25","20:16-28","22:19-30","24:21-32","26:25-35","28:29-37"],["4:3-6","6:4-8","8:5-10","10:7-13","12:9-15","14:11-17","16:13-19","18:16-21","20:19-23"],["4:3-5","6:4-7","8:6-10","10:8-13","12:11-15","14:13-17","16:15-18","18:18-20"],["6:5-8","8:7-11","10:10-13","12:12-15"],["5:5-7","7:6-9","9:8-11","11:10-14"],["5:5-7","7:6-9","9:8-11","11:10-13"]];
// ---------- watermark text ----------
const markCjk="原创作者：", markLatin="Jay8059", footer="CSDN @Jay8059";
const markAt=[[56,54],[1308,54],[1620,1071],[56,1409],[998,1748]];

// ---------- styles ----------
const levelColors=["#A9C6EB","#93BCEC","#6EB0EE","#3FA2EC","#2B8CD4","#2A6CA6","#364A6A"];
const colBox=[[163,581],[625,1042],[1086,1504],[1548,1966]];
const rowBox=[[35,473],[501,940],[969,1407],[1436,1874]];
const FONT={family:"DejaVu Sans",size:30};
const yTitlePad=[0,39.6,19.6,20.6];

function buckets(){return levelColors.map(()=>[]);}
function stripeRows(arr,fn){arr.forEach(s=>{const[p,q]=s.split(":");q.split(",").forEach(b=>fn(+p,+b));});}
function xPanel(stripes,bands,top,step){
  const B=buckets();
  const put=(l,b,r1,r2)=>B[l].push({x:xBinStart+(b+.5)*xBinStep,y:[top-(r2+1)*step,top-r1*step+step*.1]});
  stripeRows(stripes,(r,b)=>put(0,b,r,r));
  bands.forEach(([a,b,s])=>{for(let i=0;i<36&&i<s.length;i++){const c=+s[i];if(c>0)put(c-1,i,a,b);}});
  return B;
}
function cellPanel(cell,singles,speckle,runs){
  const B=buckets();
  const[dx,dy]=cell;
  const put=(l,c,r,h)=>B[l].push({x:c*dx,y:[r*dy,(r+h)*dy+dy*.05]});
  runs.forEach((lv,l)=>lv.forEach(s=>{const[p,q]=s.split(":");q.split(",").forEach(seg=>{const[a,b]=seg.split("-");for(let c=+a;c<=+b;c++)put(l,c,+p,2);});}));
  stripeRows(speckle,(r,c)=>put(0,c,r,1));
  singles.split(" ").forEach(t=>{const[c,r]=t.split(",");put(0,+c,+r,1);});
  return B;
}
function bucketDatasets(B){
  return B.map((data,i)=>({data,order:-i,backgroundColor:levelColors[i],borderWidth:0,grouped:false,barPercentage:1.04,categoryPercentage:1}));
}
function histDataset(i,vals){
  return [{data:vals.map((v,k)=>({x:histBinStart[i]+(k+.5)*histBinWidth[i],y:v})),backgroundColor:"#5799C6",borderColor:"#17344F",borderWidth:1,borderSkipped:false,grouped:false,barPercentage:1,categoryPercentage:1}];
}
function panel(col,row,datasets,yMin,yMax,hist){
  const ML=150,MT=45,MR=30,MB=row===3?93:30;
  const W=colBox[col][1]-colBox[col][0],H=rowBox[row][1]-rowBox[row][0];
  const cv=document.createElement("canvas");
  cv.width=ML+W+MR;cv.height=MT+H+MB;
  cv.style.left=(colBox[col][0]-ML)+"px";cv.style.top=(rowBox[row][0]-MT)+"px";
  cv.style.width=cv.width+"px";cv.style.height=cv.height+"px";
  document.body.appendChild(cv);
  const showX=row===3, showY=col===0&&!hist;
  new Chart(cv,{type:"bar",data:{datasets},options:{
    responsive:false,animation:false,devicePixelRatio:1,
    layout:{padding:{left:0,top:MT,right:MR,bottom:0}},
    plugins:{legend:{display:false},tooltip:{enabled:false}},
    scales:{
      x:{type:"linear",offset:false,min:axisRangeX[col][0],max:axisRangeX[col][1],
        grid:{offset:false,drawOnChartArea:false,drawTicks:true,tickLength:10,tickColor:"#000",tickWidth:2},
        border:{display:true,color:"#000",width:2},
        ticks:{display:showX,autoSkip:false,maxRotation:0,padding:7,color:"#000",font:FONT,callback:v=>(+v).toFixed(xDecimals[col])},
        title:{display:showX,text:names[col],color:"#000",font:FONT,padding:{top:0.6,bottom:0}},
        afterBuildTicks:s=>{s.ticks=xTicks[col].map(v=>({value:v}));},
        afterFit:s=>{s.height=MB;}},
      y:{type:"linear",min:yMin,max:yMax,
        grid:{display:!hist,drawOnChartArea:false,drawTicks:true,tickLength:10,tickColor:"#000",tickWidth:2},
        border:{display:!hist,color:"#000",width:2},
        ticks:{display:showY,autoSkip:false,padding:9,labelOffset:2.5,color:"#000",font:FONT,callback:v=>(+v).toFixed(yDecimals[row])},
        title:{display:showY,text:names[row],color:"#000",font:FONT,padding:{top:yTitlePad[row],bottom:0}},
        afterBuildTicks:s=>{s.ticks=hist?[]:yTicks[row].map(v=>({value:v}));},
        afterFit:s=>{s.width=ML;}}
    }}});
}
// diagonal
[histX,histY,histWidth,histHeight].forEach((v,i)=>panel(i,i,histDataset(i,v),0,histTop[i],true));
// off-diagonal
const R=axisRangeY;
panel(0,1,bucketDatasets(xPanel(xyStripes,xyBands,xyTop,xyStep)),R[1][0],R[1][1]);
panel(0,2,bucketDatasets(xPanel(xwStripes,xwBands,xwTop,xwStep)),R[2][0],R[2][1]);
panel(0,3,bucketDatasets(xPanel(xhStripes,xhBands,xhTop,xhStep)),R[3][0],R[3][1]);
panel(1,2,bucketDatasets(cellPanel(ywCell,ywSingles,ywSpeckle,ywRuns)),R[2][0],R[2][1]);
panel(1,3,bucketDatasets(cellPanel(yhCell,yhSingles,yhSpeckle,yhRuns)),R[3][0],R[3][1]);
panel(2,3,bucketDatasets(cellPanel(whCell,whSingles,whSpeckle,whRuns)),R[3][0],R[3][1]);
// watermark
markAt.forEach(([x,y])=>{
  const d=document.createElement("div");d.className="wm";
  d.style.left=x+"px";d.style.top=(y-25)+"px";
  const s=document.createElement("span");s.textContent=markCjk;d.appendChild(s);
  d.appendChild(document.createTextNode(markLatin));
  document.body.appendChild(d);
});
const f=document.createElement("div");f.className="csdn";f.textContent=footer;document.body.appendChild(f);
</script>
</body></html>
